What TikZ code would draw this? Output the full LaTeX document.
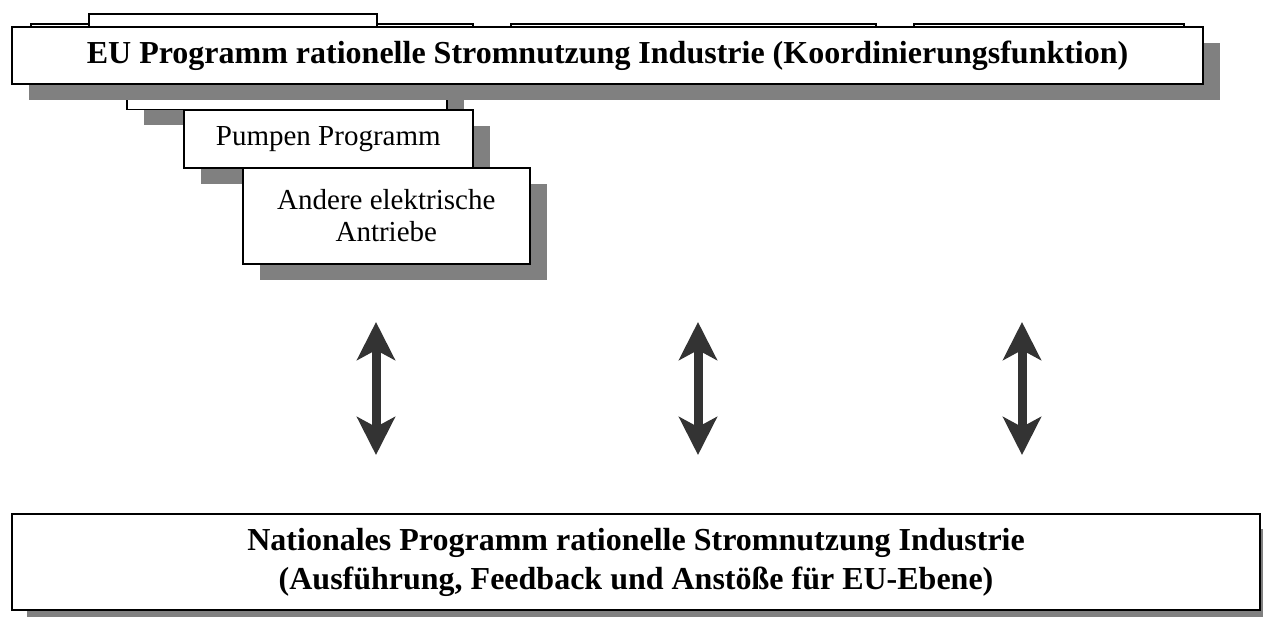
\documentclass[tikz,border=0pt]{standalone}
\usepackage{fontspec}
\setmainfont{Liberation Serif}
\usetikzlibrary{arrows.meta,shadows}
\definecolor{shadowgray}{HTML}{808080}
\definecolor{arrowgray}{HTML}{333333}
\tikzset{
  shbox/.style={draw=black, fill=white, line width=1.6pt, inner sep=0pt, anchor=north west,
    general shadow={shadow xshift=17pt, shadow yshift=-16pt, fill=shadowgray}},
  plainbox/.style={draw=black, fill=white, line width=1.6pt, inner sep=0pt, anchor=north west},
  bigbox/.style={shbox, line width=2.2pt},
  dblarrow/.style={draw=arrowgray, line width=9pt,
    {Stealth[length=38pt,width=38pt,inset=10pt,fill=arrowgray]}-{Stealth[length=38pt,width=38pt,inset=10pt,fill=arrowgray]}}
}
\begin{document}
\begin{tikzpicture}[x=1pt,y=-1pt]
\useasboundingbox (0,0) rectangle (1263,616);
% boxes stacked behind the main box
\node[plainbox, minimum width=442pt, minimum height=40pt] (c1) at (30,23) {};
\node[plainbox, minimum width=365pt, minimum height=40pt] (c2) at (510,23) {};
\node[plainbox, minimum width=270pt, minimum height=40pt] (c3) at (913,23) {};
\node[plainbox, minimum width=288pt, minimum height=40pt] (ba) at (88,13) {};
\node[shbox, minimum width=320pt, minimum height=60pt] (bb) at (126,48.5) {};
% main box
\node[bigbox, minimum width=1191pt, minimum height=57.5pt,
  font=\bfseries\fontsize{32}{38}\selectfont] (eu) at (11,25.5)
  {EU Programm rationelle Stromnutzung Industrie (Koordinierungsfunktion)};
% sub-programme boxes
\node[shbox, minimum width=289pt, minimum height=58pt,
  font=\fontsize{29}{33}\selectfont] (pump) at (183,109) {Pumpen Programm};
\node[shbox, minimum width=287pt, minimum height=96pt, align=center,
  font=\fontsize{29}{32}\selectfont] (andere) at (242,167) {Andere elektrische\\Antriebe};
% national box
\node[bigbox, minimum width=1248pt, minimum height=96pt, align=center,
  general shadow={shadow xshift=15pt, shadow yshift=-15pt, fill=shadowgray},
  font=\bfseries\fontsize{32}{39}\selectfont] (nat) at (11,513)
  {Nationales Programm rationelle Stromnutzung Industrie\\(Ausführung, Feedback und Anstöße für EU-Ebene)};
% double arrows
\coordinate (a1t) at (376,322); \coordinate (a1b) at (376,455);
\coordinate (a2t) at (698,322); \coordinate (a2b) at (698,455);
\coordinate (a3t) at (1022,322); \coordinate (a3b) at (1022,455);
\draw[dblarrow] (a1t) -- (a1b);
\draw[dblarrow] (a2t) -- (a2b);
\draw[dblarrow] (a3t) -- (a3b);
\end{tikzpicture}
\end{document}
